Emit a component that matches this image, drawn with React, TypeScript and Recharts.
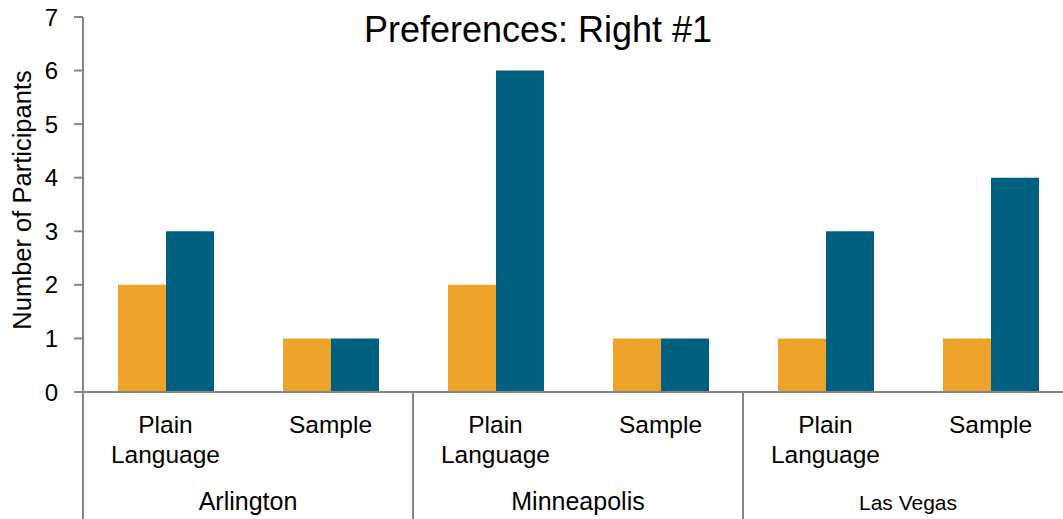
import React from "react";
import { BarChart, Bar, XAxis, YAxis } from "recharts";

const groups = ["Arlington", "Minneapolis", "Las Vegas"];
const formats = ["Plain Language", "Sample"];
const orangeCounts = [2, 1, 2, 1, 1, 1];
const blueCounts = [3, 1, 6, 1, 3, 4];
const yTicks = [0, 1, 2, 3, 4, 5, 6, 7];

const data = groups.flatMap((g, gi) =>
  formats.map((f, fi) => ({
    key: `${g}|${f}`,
    group: g,
    format: f,
    orange: orangeCounts[gi * 2 + fi],
    blue: blueCounts[gi * 2 + fi],
  }))
);

const AXIS = "#868686";
const FONT = "'Liberation Sans', Arial, sans-serif";
const BAND = 165;

function CategoryTick(props: any) {
  const { x, y, payload, index } = props;
  const [group, format] = String(payload.value).split("|");
  const words = format === "Plain Language" ? ["Plain", "Language"] : [format];
  const isFirst = format === formats[0];
  return (
    <g>
      {words.map((w, i) => (
        <text key={w} x={x} y={y + 41 + i * 30} textAnchor="middle" fontSize={24.5} fill="#000" fontFamily={FONT}>
          {w}
        </text>
      ))}
      {isFirst && (
        <>
          <line x1={x - BAND / 2} x2={x - BAND / 2} y1={y} y2={y + 140} stroke={AXIS} strokeWidth={2} />
          <text
            x={x + BAND / 2}
            y={y + 118}
            textAnchor="middle"
            fontSize={group === "Las Vegas" ? 21 : 25}
            fill="#000"
            fontFamily={FONT}
          >
            {group}
          </text>
        </>
      )}
    </g>
  );
}

function YTitle() {
  return (
    <text
      x={31}
      y={200}
      transform="rotate(-90 31 200)"
      textAnchor="middle"
      fontSize={25.5}
      fill="#000"
      fontFamily={FONT}
    >
      Number of Participants
    </text>
  );
}

export default function App() {
  return (
    <div style={{ position: "absolute", left: 0, top: 0, width: 1063, height: 519, overflow: "hidden", background: "#fff" }}>
      <BarChart
        width={1080}
        height={519}
        data={data}
        margin={{ top: 17, right: 7, bottom: 0, left: 0 }}
        barCategoryGap={35}
        barGap={0}
      >
        <XAxis
          dataKey="key"
          height={127}
          interval={0}
          tickLine={false}
          tickSize={0}
          tickMargin={0}
          axisLine={{ stroke: AXIS, strokeWidth: 2 }}
          tick={<CategoryTick />}
        />
        <YAxis
          width={83}
          domain={[0, 7]}
          ticks={yTicks}
          interval={0}
          tickSize={9}
          tickMargin={16}
          axisLine={{ stroke: AXIS, strokeWidth: 2 }}
          tickLine={{ stroke: AXIS, strokeWidth: 2 }}
          tick={{ fill: "#000", fontSize: 24, fontFamily: FONT }}
          label={{ content: () => <YTitle /> }}
        />
        <Bar dataKey="orange" name="Orange" fill="#EDA32A" isAnimationActive={false} />
        <Bar dataKey="blue" name="Blue" fill="#00607F" isAnimationActive={false} />
      </BarChart>
      <svg style={{ position: "absolute", left: 0, top: 0, pointerEvents: "none" }} width={1063} height={60}>
        <text x={538} y={42} textAnchor="middle" fontSize={36} fill="#000" fontFamily={FONT}>
          Preferences: Right #1
        </text>
      </svg>
    </div>
  );
}
